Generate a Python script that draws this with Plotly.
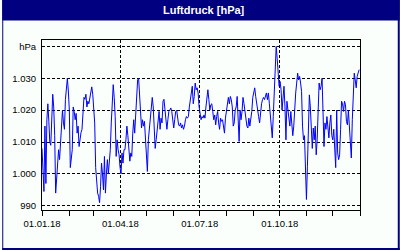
import pandas as pd
import plotly.graph_objects as go

# Air pressure values (hPa), evenly spaced through 2018
values_q1 = [1008, 1001, 994.5, 1015, 997, 1017, 1022, 1016.5, 1010, 1009, 1020.7, 1025, 1021, 1012,
             994, 1000, 1003.4, 1007.6, 1004.5, 1010.7, 1015, 1020, 1016, 1014, 1023.3, 1028.5, 1030,
             1026, 1020, 1002, 1004.5, 1007.6, 1021, 1019.6, 1017, 1019, 1012.8, 1015, 1008.6, 1012,
             1013, 1014, 1019, 1024, 1023.4, 1025, 1021, 1022.8, 1022, 1024, 1025.4, 1027.3, 1025,
             1021, 1016, 1002, 996, 994, 993, 991, 996, 1003.4, 1000, 995, 1005.5, 994, 1000, 1004.5,
             1000, 1003.4, 1007.6, 1016, 1024, 1028, 1024, 1018, 1005.5, 1010.7, 1007.6, 1006, 1002,
             1000, 1006.6, 1003.4, 1007.6]
values_q2 = [1007.6, 1010.7, 1015, 1012, 1006.6, 1004, 1006.6, 1005.5, 1012.8, 1017, 1012.8, 1020,
             1025.4, 1029.5, 1030, 1023.3, 1016, 1014.4, 1017, 1015, 1016.5, 1012, 1006.6, 1000.8,
             1010.7, 1014, 1017, 1022, 1024, 1021, 1012, 1008, 1010.7, 1014, 1017, 1019.6, 1014,
             1017.5, 1016, 1022.8, 1023.4, 1019.6, 1018, 1014, 1017, 1019.6, 1020, 1020.7, 1019.6,
             1017, 1014.4, 1017, 1019.6, 1020, 1017.5, 1015.4, 1015, 1016, 1014.4, 1015.4, 1014, 1015,
             1017, 1018, 1017.5, 1018, 1021, 1022.8, 1025.4, 1027.5, 1022, 1024.3, 1028.5, 1026.4,
             1027, 1025.4, 1021, 1018, 1017, 1018, 1017.5]
values_q3 = [1018.5, 1017.5, 1021, 1024.8, 1026.4, 1023.3, 1020, 1021.7, 1022, 1019.6, 1017, 1018.5,
             1015.4, 1018, 1019.6, 1016, 1014, 1017.5, 1016.5, 1017, 1015, 1012.8, 1017.5, 1019.6,
             1021, 1024, 1022, 1024.3, 1023.3, 1021, 1015, 1016, 1020, 1021, 1024.3, 1016, 1010.2,
             1020, 1017, 1019.6, 1024, 1022, 1019.6, 1017, 1015, 1014.4, 1017.5, 1015, 1017, 1019.6,
             1024, 1026.4, 1027, 1024.3, 1021.7, 1019.6, 1018, 1016, 1020, 1022, 1023.3, 1024, 1023.3,
             1024.3, 1025.4, 1023.3, 1025.4, 1022, 1018, 1015, 1011.3, 1018, 1025.9, 1036.9, 1040,
             1036.3, 1031.6, 1027.5]
values_q4 = [1029, 1026.4, 1020, 1023.3, 1027.5, 1021, 1010.7, 1022.8, 1020, 1017, 1015, 1019.6, 1016,
             1012, 1015, 1022, 1025.4, 1028.5, 1031.6, 1029.5, 1030.6, 1028.5, 1025.9, 1015, 1010.7,
             1012, 1000.3, 992, 1002.4, 1010.7, 1024.8, 1021, 1012.8, 1008, 1014.4, 1010.7, 1015, 1006,
             1010.7, 1019.6, 1028.5, 1026.4, 1027.5, 1030, 1017.5, 1008.6, 1016, 1014, 1018, 1015,
             1011.3, 1016, 1018.5, 1012, 1010.7, 1014, 1006.6, 1002, 1020, 1006.6, 1004.5, 1006, 1014,
             1022.8, 1022, 1019.6, 1022.8, 1021.7, 1016.5, 1015.4, 1020, 1014.4, 1008.6, 1005, 1017,
             1025.4, 1031.6, 1029.5, 1027, 1030.6, 1032.2, 1032.7]
pressure = values_q1 + values_q2 + values_q3 + values_q4
dates = pd.date_range("2018-01-01", "2018-12-31", periods=len(pressure))

x_tick_vals = ["2018-01-01", "2018-04-01", "2018-07-01", "2018-10-01"]
x_tick_text = ["01.01.18", "01.04.18", "01.07.18", "01.10.18"]
y_tick_vals = [990, 1000, 1010, 1020, 1030, 1040]
y_tick_text = ["990", "1.000", "1.010", "1.020", "1.030", "hPa"]
title_text = "Luftdruck [hPa]"

NAVY = "#000080"
BG = "#FAFFFC"
FONT = "Liberation Sans"

fig = go.Figure()
fig.add_trace(go.Scatter(x=dates, y=pressure, mode="lines",
                         line=dict(color="#0000FF", width=1), hoverinfo="skip"))

W, H = 400, 250
L, R, T, B = 40, 40, 40, 40
pw, ph = W - L - R, H - T - B


def px(x):
    return (x - L) / pw


def py(y):
    return (H - B - y) / ph


shapes = [
    dict(type="rect", xref="paper", yref="paper", x0=px(0), x1=px(400), y0=py(20.5), y1=py(0),
         fillcolor=NAVY, line=dict(width=0)),
    dict(type="rect", xref="paper", yref="paper", x0=px(0), x1=px(1), y0=py(250), y1=py(0),
         fillcolor=NAVY, line=dict(width=0)),
    dict(type="rect", xref="paper", yref="paper", x0=px(398), x1=px(400), y0=py(250), y1=py(0),
         fillcolor=NAVY, line=dict(width=0)),
    dict(type="rect", xref="paper", yref="paper", x0=px(0), x1=px(400), y0=py(250), y1=py(248),
         fillcolor=NAVY, line=dict(width=0)),
]

fig.update_layout(
    width=W, height=H,
    margin=dict(l=L, r=R, t=T, b=B, pad=0),
    paper_bgcolor=BG, plot_bgcolor=BG,
    showlegend=False,
    shapes=shapes,
    font=dict(family=FONT, size=9.5, color="#000000"),
    annotations=[dict(text="<b>" + title_text + "</b>", xref="paper", yref="paper",
                      x=px(203), y=py(10.5), xanchor="center", yanchor="middle",
                      showarrow=False, font=dict(family=FONT, size=11, color="white"))],
)

fig.update_xaxes(
    type="date", range=["2018-01-01", "2019-01-01"],
    tickvals=x_tick_vals, ticktext=x_tick_text,
    ticks="outside", ticklen=5, tickwidth=1, tickcolor="black",
    showline=True, linecolor="black", linewidth=1, mirror=True,
    showgrid=True, gridcolor="black", gridwidth=1, griddash="3px,2px",
    minor=dict(dtick="M1", tick0="2018-01-01", ticks="outside", ticklen=5,
               tickcolor="black", tickwidth=1, showgrid=False),
    zeroline=False, fixedrange=True,
)
fig.update_yaxes(
    range=[988.7, 1042.0],
    tickvals=y_tick_vals, ticktext=y_tick_text,
    ticks="", ticklabelstandoff=3,
    showline=True, linecolor="black", linewidth=1, mirror=True,
    showgrid=True, gridcolor="black", gridwidth=1, griddash="3px,2px",
    zeroline=False, fixedrange=True,
)

fig.write_html("out.html", config=dict(displayModeBar=False))
